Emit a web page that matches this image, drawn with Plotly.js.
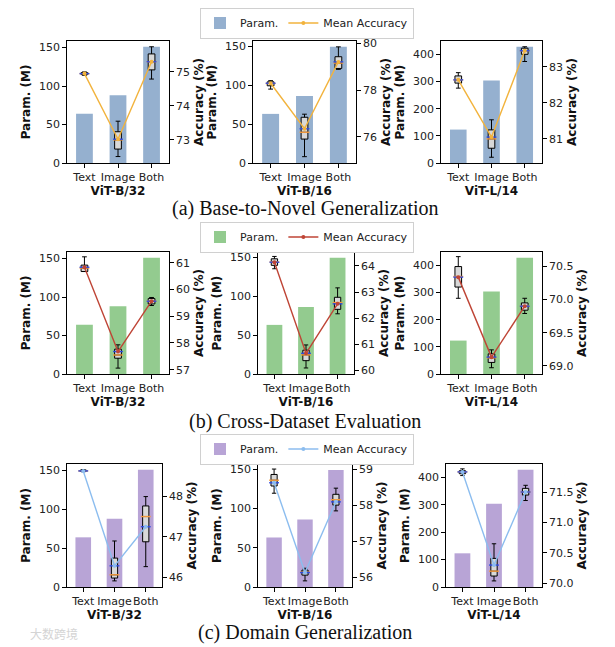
<!DOCTYPE html>
<html><head><meta charset="utf-8">
<script src="https://cdn.plot.ly/plotly-3.0.1.min.js"></script>
<style>html,body{margin:0;padding:0;background:#fff}#chart{width:615px;height:647px}</style>
</head><body><div id="chart"></div>
<script>
// ---------- data ----------
const categories = ['Text', 'Image', 'Both'];
const models = ['ViT-B/32', 'ViT-B/16', 'ViT-L/14'];
const rowTitles = ['(a) Base-to-Novel Generalization', '(b) Cross-Dataset Evaluation', '(c) Domain Generalization'];

const paramB32 = [64, 88, 151];
const paramB16 = [63, 86, 149];
const paramL14 = [123, 304, 428];
const paramTicksB = [0, 50, 100, 150];
const paramTicksL = [0, 100, 200, 300, 400];

// accuracy box statistics (lower whisker, q1, median, q3, upper whisker, mean)
const b2nB32 = {lo:[74.90,72.51,74.79], q1:[74.92,72.73,75.06], med:[74.95,73.00,75.30], q3:[74.98,73.24,75.53], hi:[75.00,73.55,75.74], mean:[74.95,73.02,75.30]};
const b2nB16 = {lo:[78.04,75.16,78.88], q1:[78.18,75.91,78.92], med:[78.28,76.20,79.15], q3:[78.35,76.84,79.42], hi:[78.40,76.97,79.84], mean:[78.29,76.35,79.20]};
const b2nL14 = {lo:[82.41,80.49,83.15], q1:[82.55,80.74,83.35], med:[82.64,81.00,83.45], q3:[82.75,81.25,83.52], hi:[82.84,81.53,83.56], mean:[82.64,81.05,83.45]};

const cdB32 = {lo:[60.67,57.06,59.40], q1:[60.67,57.43,59.46], med:[60.80,57.55,59.56], q3:[60.91,57.77,59.66], hi:[61.22,57.93,59.70], mean:[60.83,57.68,59.56]};
const cdB16 = {lo:[63.89,60.10,62.17], q1:[64.02,60.38,62.34], med:[64.15,60.60,62.60], q3:[64.27,60.78,62.80], hi:[64.36,60.98,63.16], mean:[64.14,60.66,62.55]};
const cdL14 = {lo:[70.02,68.97,69.79], q1:[70.19,69.05,69.84], med:[70.35,69.12,69.90], q3:[70.50,69.18,69.95], hi:[70.65,69.24,70.02], mean:[70.34,69.13,69.90]};

const dgB32 = {lo:[48.60,45.92,46.27], q1:[48.61,45.99,46.88], med:[48.62,46.07,47.50], q3:[48.64,46.48,47.76], hi:[48.65,46.90,47.99], mean:[48.62,46.29,47.25]};
const dgB16 = {lo:[58.34,55.91,57.85], q1:[58.54,56.07,58.01], med:[58.70,56.15,58.16], q3:[58.86,56.21,58.31], hi:[59.01,56.26,58.48], mean:[58.63,56.14,58.10]};
const dgL14 = {lo:[71.77,70.04,71.36], q1:[71.80,70.12,71.45], med:[71.83,70.20,71.50], q3:[71.85,70.41,71.56], hi:[71.88,70.65,71.61], mean:[71.83,70.30,71.50]};

const accTicks = [
  [[73,74,75], [76,78,80], [81,82,83]],
  [[57,58,59,60,61], [60,61,62,63,64], [69.0,69.5,70.0,70.5]],
  [[46,47,48], [56,57,58,59], [70.0,70.5,71.0,71.5]]
];

// ---------- styling / layout ----------
const accRanges = [
  [[72.32,75.91],[74.89,80.09],[80.33,83.72]],
  [[56.84,61.40],[59.87,64.53],[68.875,70.72]],
  [[45.77,48.79],[55.74,59.15],[69.94,71.96]]
];
const accFormats = [['','',''],['','','.1f'],['','','.1f']];
const paramRanges = [[0,158.5],[0,156.5],[0,449]];
const barColors = ['#95B0CF', '#93CB8F', '#B8A4D6'];
const lineColors = ['#F2B33D', '#BF4536', '#8CBDEF'];
const W = 615, H = 647;
const colPx = [
  [[67,169],[253,356],[441,542]],
  [[67,169],[258,354],[441,542]],
  [[67,162],[258,352],[446,542]]
];
const rowPx = [[41,163],[252,374],[464,587]];
const legendY = [23, 237, 449];
const subtitleY = [209, 421, 632];

const stats = [[b2nB32,b2nB16,b2nL14],[cdB32,cdB16,cdL14],[dgB32,dgB16,dgL14]];
const params = [paramB32, paramB16, paramL14];
const paramTicks = [paramTicksB, paramTicksB, paramTicksL];

const FONT = 'DejaVu Sans, sans-serif';
const tickFont = {family: FONT, size: 11, color: '#222'};
const titleFont = {family: FONT, size: 12, color: '#111', weight: 'bold'};

const traces = [];
const layout = {
  width: W, height: H,
  margin: {l:0, r:0, t:0, b:0},
  paper_bgcolor: '#fff', plot_bgcolor: 'rgba(0,0,0,0)',
  showlegend: true,
  annotations: [],
  barmode: 'overlay', boxmode: 'overlay'
};

function nm(p, i) { return i === 1 ? p : p + i; }

for (let r = 0; r < 3; r++) {
  const legName = r === 0 ? 'legend' : 'legend' + (r + 1);
  layout[legName] = {
    orientation: 'h', x: 307 / W, xanchor: 'center', y: 1 - legendY[r] / H, yanchor: 'middle',
    bgcolor: '#fff', bordercolor: '#d0d0d0', borderwidth: 1,
    font: {family: FONT, size: 11, color: '#222'}, itemwidth: 30, tracegroupgap: 0
  };
  layout.annotations.push({
    text: rowTitles[r], xref: 'paper', yref: 'paper', x: 305 / W, y: 1 - subtitleY[r] / H,
    xanchor: 'center', yanchor: 'middle', showarrow: false,
    font: {family: 'Liberation Serif, Times New Roman, serif', size: 20, color: '#111'}
  });
  for (let c = 0; c < 3; c++) {
    const i = r * 3 + c + 1;
    const j = i + 9;
    const xn = nm('x', i), yn = nm('y', i), yr = 'y' + j;
    const xd = [colPx[r][c][0] / W, colPx[r][c][1] / W];
    const yd = [1 - rowPx[r][1] / H, 1 - rowPx[r][0] / H];
    const axLine = {showline: true, linecolor: '#000', linewidth: 1.3, ticks: 'outside', ticklen: 3.5, tickwidth: 1, tickcolor: '#000', showgrid: false, zeroline: false, tickfont: tickFont};
    layout[nm('xaxis', i)] = Object.assign({}, axLine, {
      domain: xd, anchor: yn, type: 'category', categoryorder: 'array', categoryarray: categories,
      range: [-0.52, 2.52], mirror: true, tickangle: 0,
      title: {text: models[c], font: titleFont, standoff: 0}
    });
    layout[nm('yaxis', i)] = Object.assign({}, axLine, {
      domain: yd, anchor: xn, range: paramRanges[c], tickvals: paramTicks[c], mirror: true,
      title: {text: 'Param. (M)', font: titleFont, standoff: 5}
    });
    layout['yaxis' + j] = Object.assign({}, axLine, {
      domain: yd, anchor: xn, overlaying: yn, side: 'right', range: accRanges[r][c],
      tickvals: accTicks[r][c], tickformat: accFormats[r][c],
      title: {text: 'Accuracy (%)', font: titleFont, standoff: 5}
    });

    const s = stats[r][c];
    traces.push({
      type: 'bar', x: categories, y: params[c], xaxis: xn, yaxis: yn, width: 0.5,
      marker: {color: barColors[r], line: {width: 0}}, name: 'Param.',
      legend: legName, showlegend: c === 0, legendgroup: 'p' + r, hoverinfo: 'skip'
    });
    traces.push({
      type: 'box', x: categories, q1: s.q1, median: s.med, q3: s.q3,
      lowerfence: s.lo, upperfence: s.hi, xaxis: xn, yaxis: yr, width: 0.2,
      fillcolor: '#D8D8D8', line: {color: '#000', width: 1}, whiskerwidth: 0.7,
      boxpoints: false, showlegend: false, legend: legName, hoverinfo: 'skip'
    });
    traces.push({
      type: 'scatter', mode: 'markers', x: categories, y: s.med, xaxis: xn, yaxis: yr,
      marker: {symbol: 'line-ew', size: 7, line: {color: '#F39A3C', width: 1.4}},
      showlegend: false, legend: legName, hoverinfo: 'skip'
    });
    traces.push({
      type: 'scatter', mode: 'markers', x: categories, y: s.mean, xaxis: xn, yaxis: yr,
      marker: {symbol: 'line-ew', size: 7, line: {color: '#2E4BE0', width: 1.4}},
      showlegend: false, legend: legName, hoverinfo: 'skip'
    });
    traces.push({
      type: 'scatter', mode: 'lines+markers', x: categories, y: s.mean, xaxis: xn, yaxis: yr,
      line: {color: lineColors[r], width: 1.4}, marker: {color: lineColors[r], size: 4},
      name: 'Mean Accuracy', legend: legName, showlegend: c === 0, legendgroup: 'm' + r, hoverinfo: 'skip'
    });
  }
}

layout.annotations.push({
  text: '大数跨境', xref: 'paper', yref: 'paper', x: 28 / W, y: 1 - 633 / H,
  xanchor: 'left', yanchor: 'middle', showarrow: false,
  font: {family: 'Noto Sans CJK SC, sans-serif', size: 12, color: '#d4d4d4'}
});

Plotly.newPlot('chart', traces, layout, {staticPlot: true, displayModeBar: false});
</script>
</body></html>
